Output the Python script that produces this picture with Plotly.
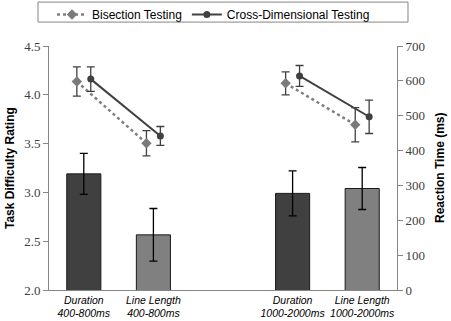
import plotly.graph_objects as go

categories = ["Duration<br>400-800ms", "Line Length<br>400-800ms", "",
              "Duration<br>1000-2000ms", "Line Length<br>1000-2000ms"]
bar_slots = [0, 1, 3, 4]
difficulty = [3.19, 2.565, 2.99, 3.04]
difficulty_err = [0.21, 0.27, 0.23, 0.215]
bar_colors = ["#404040", "#808080", "#404040", "#808080"]

bisection_rt = [598, 421, 593, 474]
bisection_err = [42, 36, 33, 49]
cross_rt = [605, 442, 614, 497]
cross_err = [35, 27, 30, 48]

offset = 0.1

fig = go.Figure()
fig.add_trace(go.Bar(
    x=bar_slots, y=difficulty, width=0.49,
    marker=dict(color=bar_colors, line=dict(color="#1a1a1a", width=1)),
    error_y=dict(type="data", array=difficulty_err, color="#000000", thickness=1.3, width=4),
    showlegend=False, yaxis="y"))

def pair_series(vals, errs, shift):
    xs, ys, es = [], [], []
    for i, (s, v, e) in enumerate(zip(bar_slots, vals, errs)):
        if i == 2:
            xs.append(None); ys.append(None); es.append(None)
        xs.append(s + shift); ys.append(v); es.append(e)
    return xs, ys, es

bx, by, be = pair_series(bisection_rt, bisection_err, -offset)
cx, cy, ce = pair_series(cross_rt, cross_err, offset)

fig.add_trace(go.Scatter(
    x=bx, y=by, mode="lines+markers", name="Bisection Testing", yaxis="y2",
    line=dict(color="#808080", width=2.5, dash="dot"),
    marker=dict(symbol="diamond", size=8, color="#7a7a7a"),
    error_y=dict(type="data", array=be, color="#404040", thickness=1.3, width=4),
    connectgaps=False))
fig.add_trace(go.Scatter(
    x=cx, y=cy, mode="lines+markers", name="Cross-Dimensional Testing", yaxis="y2",
    line=dict(color="#404040", width=2),
    marker=dict(symbol="circle", size=7, color="#404040"),
    error_y=dict(type="data", array=ce, color="#404040", thickness=1.3, width=4),
    connectgaps=False))

W, H = 451, 321
tickfont = dict(family="Liberation Serif", size=13, color="#404040")
fig.update_layout(
    width=W, height=H,
    margin=dict(l=49, r=54, t=46, b=31, autoexpand=False),
    plot_bgcolor="white", paper_bgcolor="white",
    font=dict(family="Liberation Sans", size=12, color="#000000"),
    xaxis=dict(range=[-0.5, 4.5], tickvals=list(range(len(categories))),
               ticktext=[f"<i>{c}</i>" if c else "" for c in categories],
               tickfont=dict(family="Liberation Sans", size=10.5, color="#000000"),
               tickangle=0, automargin=False,
               showline=True, linecolor="#868686", linewidth=1, ticks="",
               showgrid=False, zeroline=False),
    yaxis=dict(range=[2, 4.5], dtick=0.5, tickformat=".1f", tickfont=tickfont,
               showline=True, linecolor="#868686", linewidth=1, ticks="outside",
               ticklen=5, tickcolor="#868686", showgrid=False, zeroline=False,
               automargin=False),
    yaxis2=dict(range=[0, 700], dtick=100, overlaying="y", side="right",
                tickfont=tickfont, showline=True, linecolor="#868686", linewidth=1,
                ticks="outside", ticklen=5, tickcolor="#868686", showgrid=False,
                zeroline=False, automargin=False),
    legend=dict(orientation="h", xref="container", yref="container",
                x=52/W, xanchor="left", y=1, yanchor="top",
                borderwidth=0, bgcolor="rgba(0,0,0,0)",
                font=dict(family="Liberation Sans", size=12)),
    bargap=0.5,
    shapes=[dict(type="rect", xref="paper", yref="paper",
                 x0=-0.0316, x1=1.0316, y0=1.098, y1=1.180,
                 line=dict(color="#868686", width=1))],
    annotations=[
        dict(text="<b>Task Difficulty Rating</b>", xref="paper", yref="paper",
             x=-39/348, y=0.5, xanchor="center", yanchor="middle", textangle=-90,
             showarrow=False, font=dict(family="Liberation Sans", size=12)),
        dict(text="<b>Reaction Time (ms)</b>", xref="paper", yref="paper",
             x=1 + 43/348, y=0.5, xanchor="center", yanchor="middle", textangle=-90,
             showarrow=False, font=dict(family="Liberation Sans", size=12)),
    ],
)

fig.write_html("out.html", config={"displayModeBar": False},
               post_script="document.body.style.margin='0';")
